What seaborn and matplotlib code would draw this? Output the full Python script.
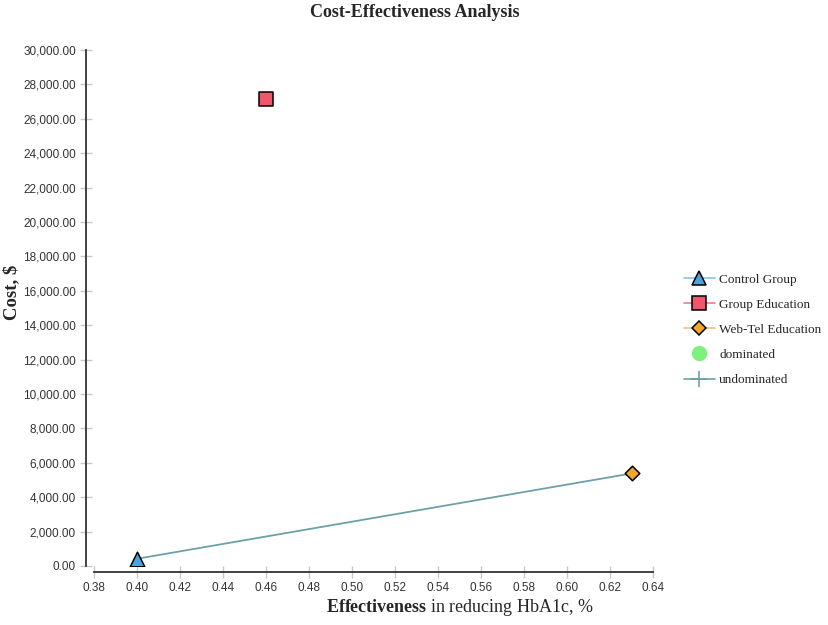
import matplotlib
matplotlib.use("Agg")
import matplotlib.pyplot as plt
from matplotlib.lines import Line2D
from matplotlib.ticker import FuncFormatter
import pandas as pd
import seaborn as sns

# values
strategies = ["Control Group", "Group Education", "Web-Tel Education"]
effectiveness = [0.40, 0.46, 0.63]
cost = [420, 27150, 5380]
frontier = ["Control Group", "Web-Tel Education"]

x_ticks = [0.38, 0.40, 0.42, 0.44, 0.46, 0.48, 0.50, 0.52, 0.54, 0.56, 0.58, 0.60, 0.62, 0.64]
y_ticks = list(range(0, 30001, 2000))

df = pd.DataFrame({"strategy": strategies, "eff": effectiveness, "cost": cost})
front = df[df["strategy"].isin(frontier)].sort_values("eff")

sns.set_style("white")
plt.rcParams["font.family"] = ["Liberation Sans", "DejaVu Sans"]
plt.rcParams["mathtext.fontset"] = "custom"
plt.rcParams["mathtext.rm"] = "Liberation Serif"
plt.rcParams["mathtext.bf"] = "Liberation Serif:bold"

fills = {"Control Group": "#4ba3dd", "Group Education": "#f2566c", "Web-Tel Education": "#f0a72c"}
lines = {"Control Group": "#8cc4ec", "Group Education": "#f27b8c", "Web-Tel Education": "#f0c47a"}
markers = {"Control Group": "^", "Group Education": "s", "Web-Tel Education": "D"}
sizes = {"Control Group": 110, "Group Education": 110, "Web-Tel Education": 55}
frontier_color = "#6aa2a6"

fig = plt.figure(figsize=(8.29, 6.25), dpi=100)
ax = fig.add_axes([94 / 829, 1 - 566 / 625, (653 - 94) / 829, (566 - 50) / 625])

sns.lineplot(data=front, x="eff", y="cost", color=frontier_color, lw=1.3, ax=ax,
             legend=False, zorder=2)
for s in strategies:
    sub = df[df["strategy"] == s]
    sns.scatterplot(data=sub, x="eff", y="cost", marker=markers[s], s=sizes[s],
                    color=fills[s], edgecolor="black", linewidth=1.1, ax=ax,
                    legend=False, zorder=3)

ax.set_xlim(0.38, 0.64)
ax.set_ylim(0, 30000)
ax.set_xticks(x_ticks)
ax.set_yticks(y_ticks)
ax.xaxis.set_major_formatter(FuncFormatter(lambda v, p: f"{v:.2f}"))
ax.yaxis.set_major_formatter(FuncFormatter(lambda v, p: f"{v:,.2f}"))
ax.set_xlabel("")
ax.set_ylabel("")

sns.despine(ax=ax)
ax.spines["left"].set_position(("outward", 6))
ax.spines["bottom"].set_position(("outward", 4.5))
for sp in ["left", "bottom"]:
    ax.spines[sp].set_color("#333333")
    ax.spines[sp].set_linewidth(1.3)
ax.tick_params(axis="both", which="major", bottom=True, left=True, direction="inout",
               length=8, width=1, color="#c8c8c8", labelsize=8.5,
               labelcolor="#333333", pad=3)

fig.suptitle("Cost-Effectiveness Analysis", x=0.5, y=0.993, fontsize=13,
             fontweight="bold", family="Liberation Serif")
fig.text(12 / 829, 1 - 292 / 625, "Cost, $", rotation=90, ha="center", va="center",
         fontsize=13.5, fontweight="bold", family="Liberation Serif")
fig.text(460 / 829, 1 - 608 / 625, r"$\bf{Effectiveness}$ in reducing HbA1c, %",
         ha="center", va="center", fontsize=13, family="Liberation Serif")

handles = [
    Line2D([], [], color=lines[s], marker=markers[s], markersize=10 if s != "Web-Tel Education" else 7,
           markerfacecolor=fills[s], markeredgecolor="black", markeredgewidth=1.1, lw=1.2)
    for s in strategies
]
handles.append(Line2D([], [], color="none", marker="o", markersize=10,
                      markerfacecolor="#7ef07e", markeredgecolor="#7ef07e"))
handles.append(Line2D([], [], color=frontier_color, marker="+", markersize=12, lw=1.2,
                      markeredgewidth=1.2))
labels = strategies + ["dominated", "undominated"]
fig.legend(handles, labels, loc="upper left", bbox_to_anchor=(679 / 829, 1 - 268 / 625),
           frameon=False, prop={"family": "Liberation Serif", "size": 9.5},
           handlelength=2.3, handletextpad=0.35, labelspacing=0.98, borderaxespad=0)

fig.savefig("out.png", dpi=100)
